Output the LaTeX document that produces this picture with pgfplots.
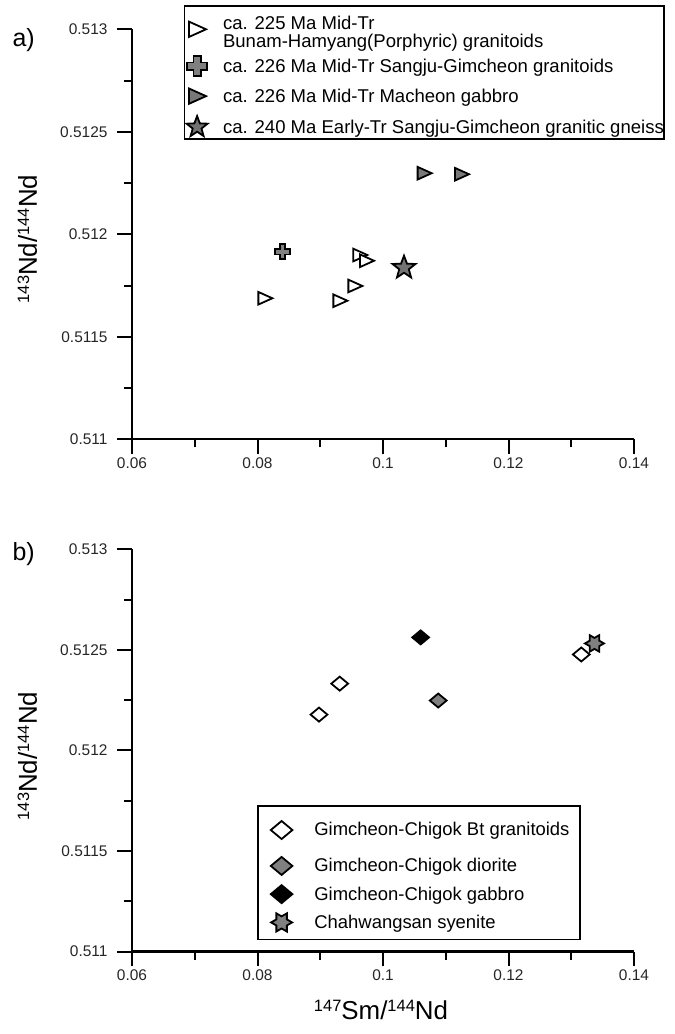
\documentclass[border=0pt]{standalone}
\usepackage{fontspec}
\setmainfont{Liberation Sans}
\usepackage{pgfplots}
\pgfplotsset{compat=1.18}

% right-pointing triangle
\pgfdeclareplotmark{rtri}{%
  \pgfpathmoveto{\pgfqpoint{1.05\pgfplotmarksize}{0pt}}%
  \pgfpathlineto{\pgfqpoint{-0.95\pgfplotmarksize}{0.9\pgfplotmarksize}}%
  \pgfpathlineto{\pgfqpoint{-0.95\pgfplotmarksize}{-0.9\pgfplotmarksize}}%
  \pgfpathclose
  \pgfusepathqfillstroke}
% thick filled plus
\pgfdeclareplotmark{fatplus}{%
  \pgfpathmoveto{\pgfqpoint{0.36\pgfplotmarksize}{\pgfplotmarksize}}%
  \pgfpathlineto{\pgfqpoint{0.36\pgfplotmarksize}{0.36\pgfplotmarksize}}%
  \pgfpathlineto{\pgfqpoint{\pgfplotmarksize}{0.36\pgfplotmarksize}}%
  \pgfpathlineto{\pgfqpoint{\pgfplotmarksize}{-0.36\pgfplotmarksize}}%
  \pgfpathlineto{\pgfqpoint{0.36\pgfplotmarksize}{-0.36\pgfplotmarksize}}%
  \pgfpathlineto{\pgfqpoint{0.36\pgfplotmarksize}{-\pgfplotmarksize}}%
  \pgfpathlineto{\pgfqpoint{-0.36\pgfplotmarksize}{-\pgfplotmarksize}}%
  \pgfpathlineto{\pgfqpoint{-0.36\pgfplotmarksize}{-0.36\pgfplotmarksize}}%
  \pgfpathlineto{\pgfqpoint{-\pgfplotmarksize}{-0.36\pgfplotmarksize}}%
  \pgfpathlineto{\pgfqpoint{-\pgfplotmarksize}{0.36\pgfplotmarksize}}%
  \pgfpathlineto{\pgfqpoint{-0.36\pgfplotmarksize}{0.36\pgfplotmarksize}}%
  \pgfpathlineto{\pgfqpoint{-0.36\pgfplotmarksize}{\pgfplotmarksize}}%
  \pgfpathclose
  \pgfusepathqfillstroke}
% filled five-pointed star
\pgfdeclareplotmark{fstar}{%
  \pgfpathmoveto{\pgfpointpolar{90}{\pgfplotmarksize}}%
  \pgfpathlineto{\pgfpointpolar{126}{0.42\pgfplotmarksize}}%
  \pgfpathlineto{\pgfpointpolar{162}{\pgfplotmarksize}}%
  \pgfpathlineto{\pgfpointpolar{198}{0.42\pgfplotmarksize}}%
  \pgfpathlineto{\pgfpointpolar{234}{\pgfplotmarksize}}%
  \pgfpathlineto{\pgfpointpolar{270}{0.42\pgfplotmarksize}}%
  \pgfpathlineto{\pgfpointpolar{306}{\pgfplotmarksize}}%
  \pgfpathlineto{\pgfpointpolar{342}{0.42\pgfplotmarksize}}%
  \pgfpathlineto{\pgfpointpolar{18}{\pgfplotmarksize}}%
  \pgfpathlineto{\pgfpointpolar{54}{0.42\pgfplotmarksize}}%
  \pgfpathclose
  \pgfusepathqfillstroke}
% six-pointed star
\pgfdeclareplotmark{hexstar}{%
  \pgfpathmoveto{\pgfpointpolar{0}{\pgfplotmarksize}}%
  \pgfpathlineto{\pgfpointpolar{30}{0.577\pgfplotmarksize}}%
  \pgfpathlineto{\pgfpointpolar{60}{\pgfplotmarksize}}%
  \pgfpathlineto{\pgfpointpolar{90}{0.577\pgfplotmarksize}}%
  \pgfpathlineto{\pgfpointpolar{120}{\pgfplotmarksize}}%
  \pgfpathlineto{\pgfpointpolar{150}{0.577\pgfplotmarksize}}%
  \pgfpathlineto{\pgfpointpolar{180}{\pgfplotmarksize}}%
  \pgfpathlineto{\pgfpointpolar{210}{0.577\pgfplotmarksize}}%
  \pgfpathlineto{\pgfpointpolar{240}{\pgfplotmarksize}}%
  \pgfpathlineto{\pgfpointpolar{270}{0.577\pgfplotmarksize}}%
  \pgfpathlineto{\pgfpointpolar{300}{\pgfplotmarksize}}%
  \pgfpathlineto{\pgfpointpolar{330}{0.577\pgfplotmarksize}}%
  \pgfpathclose
  \pgfusepathqfillstroke}
% wide diamond
\pgfdeclareplotmark{wdiamond}{%
  \pgfpathmoveto{\pgfqpoint{1.2\pgfplotmarksize}{0pt}}%
  \pgfpathlineto{\pgfqpoint{0pt}{\pgfplotmarksize}}%
  \pgfpathlineto{\pgfqpoint{-1.2\pgfplotmarksize}{0pt}}%
  \pgfpathlineto{\pgfqpoint{0pt}{-\pgfplotmarksize}}%
  \pgfpathclose
  \pgfusepathqfillstroke}

\newcommand\iso[1]{\raisebox{0.3em}{\fontsize{16.5}{16.5}\selectfont #1}}

\pgfplotsset{
  ndaxis/.style={
    scale only axis, width=502bp,
    xmin=0.06, xmax=0.14, ymin=0.511, ymax=0.513,
    axis x line*=bottom, axis y line*=left,
    axis line style={-, line width=2.2bp},
    tick align=outside,
    major tick length=15bp, minor tick length=8bp,
    tick style={black, line width=2bp},
    xtick={0.06,0.08,0.1,0.12,0.14},
    xticklabels={0.06,0.08,0.1,0.12,0.14},
    ytick={0.511,0.5115,0.512,0.5125,0.513},
    yticklabels={0.511,0.5115,0.512,0.5125,0.513},
    minor x tick num=1, minor y tick num=1,
    scaled ticks=false,
    tick label style={font=\fontsize{15.5}{16}\selectfont, text=black!85},
    yticklabel style={xshift=-6bp},
    clip=false,
    legend cell align=left,
    legend image code/.code={\draw[mark repeat=2,mark phase=2,##1] plot coordinates {(0bp,0bp)(12bp,0bp)(24bp,0bp)};},
  },
  % first legend rows get extra room above/below
  firstrow a/.style={legend image code/.code={\draw[mark repeat=2,mark phase=2,##1] plot coordinates {(0bp,0bp)(12bp,0bp)(24bp,0bp)}; \path (0bp,19.4bp);}},
  firstrow b/.style={legend image code/.code={\draw[mark repeat=2,mark phase=2,##1] plot coordinates {(0bp,0bp)(12bp,0bp)(24bp,0bp)}; \path (0bp,15.3bp) (0bp,-15.9bp);}},
}

\begin{document}
\begin{tikzpicture}
\path[use as bounding box] (0bp,0bp) rectangle (675bp,-1034bp);

% ---------- a) ----------
\begin{axis}[ndaxis, height=410bp,
  at={(132bp,-439.3bp)}, anchor=south west,
  legend style={at={(0.1026,1.0593)}, anchor=north west, draw=black, line width=1.6bp,
    font=\fontsize{18.6}{18.5}\selectfont,
    cells={anchor=west, text height=13.4bp, text depth=3.9bp},
    inner xsep=0bp, inner ysep=3.3bp, nodes={inner sep=0pt}, row sep=12.3bp, column sep=15.5bp},
]
\addplot[only marks, mark=rtri, mark size=7bp, firstrow a,
  legend image post style={mark size=8.5bp},
  mark options={draw=black, fill=white, line width=1.8bp}] coordinates {
  (0.0812,0.511688) (0.09315,0.511676) (0.09554,0.511748)
  (0.09633,0.511899) (0.0974,0.511871)};
\addlegendentry[text height=14.6bp, text depth=14.6bp]{\vtop{\hbox{ca. 225 Ma Mid-Tr}\hbox{Bunam-Hamyang(Porphyric) granitoids}}}
\addplot[only marks, mark=fatplus, mark size=7.5bp,
  legend image post style={mark size=10bp},
  mark options={draw=black, fill=black!50, line width=1.8bp}] coordinates {
  (0.0840,0.511915)};
\addlegendentry{ca. 226 Ma Mid-Tr Sangju-Gimcheon granitoids}
\addplot[only marks, mark=rtri, mark size=7bp,
  legend image post style={mark size=8.5bp},
  mark options={draw=black, fill=black!53, line width=1.8bp}] coordinates {
  (0.10658,0.512298) (0.11254,0.512293)};
\addlegendentry{ca. 226 Ma Mid-Tr Macheon gabbro}
\addplot[only marks, mark=fstar, mark size=12bp,
  legend image post style={mark size=11bp},
  mark options={draw=black, fill=black!55, line width=1.8bp}] coordinates {
  (0.10335,0.511837)};
\addlegendentry{ca. 240 Ma Early-Tr Sangju-Gimcheon granitic gneiss\hspace{8bp}}
\end{axis}

% ---------- b) ----------
\begin{axis}[ndaxis, height=402.2bp,
  at={(132bp,-951.5bp)}, anchor=south west,
  legend style={at={(0.2496,0.3643)}, anchor=north west, draw=black, line width=1.6bp,
    font=\fontsize{18.5}{18.5}\selectfont,
    cells={anchor=west, text height=13.4bp, text depth=3.9bp},
    inner xsep=10.7bp, inner ysep=8.15bp, nodes={inner sep=0pt}, row sep=10.2bp, column sep=22bp},
]
\addplot[only marks, mark=wdiamond, mark size=7bp, firstrow b,
  legend image post style={mark size=9bp},
  mark options={draw=black, fill=white, line width=1.8bp}] coordinates {
  (0.0898,0.512178) (0.0931,0.512332) (0.1316,0.512477)};
\addlegendentry{Gimcheon-Chigok Bt granitoids\hspace{8bp}}
\addplot[only marks, mark=wdiamond, mark size=7bp,
  legend image post style={mark size=9bp},
  mark options={draw=black, fill=black!50, line width=1.8bp}] coordinates {
  (0.1088,0.512248)};
\addlegendentry{Gimcheon-Chigok diorite}
\addplot[only marks, mark=wdiamond, mark size=7bp,
  legend image post style={mark size=9bp},
  mark options={draw=black, fill=black, line width=1.8bp}] coordinates {
  (0.1060,0.512562)};
\addlegendentry{Gimcheon-Chigok gabbro}
\addplot[only marks, mark=hexstar, mark size=9.5bp,
  legend image post style={mark size=10.5bp},
  mark options={draw=black, fill=black!50, line width=1.8bp}] coordinates {
  (0.1337,0.512532)};
\addlegendentry{Chahwangsan syenite}
\end{axis}

% panel letters and axis titles
\node[anchor=west, font=\fontsize{25}{25}\selectfont] at (9bp,-40.5bp) {a)};
\node[anchor=west, font=\fontsize{25}{25}\selectfont] at (9bp,-554.5bp) {b)};
\node[rotate=90, font=\fontsize{26}{26}\selectfont] at (27.5bp,-239bp) {\iso{143}Nd/\iso{144}Nd};
\node[rotate=90, font=\fontsize{26}{26}\selectfont] at (27.5bp,-756bp) {\iso{143}Nd/\iso{144}Nd};
\node[font=\fontsize{26}{26}\selectfont] at (381bp,-1010bp) {\iso{147}Sm/\iso{144}Nd};
\end{tikzpicture}
\end{document}
